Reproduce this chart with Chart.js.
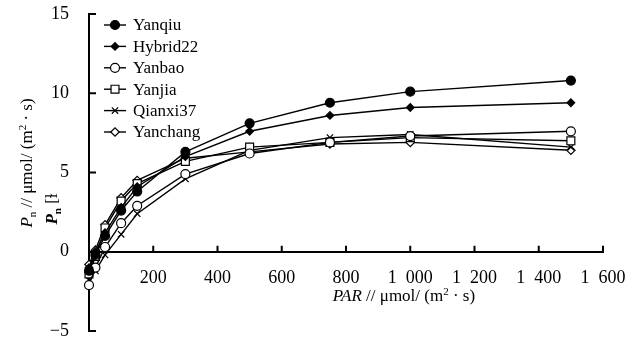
<!DOCTYPE html>
<html>
<head>
<meta charset="utf-8">
<script src="https://cdn.jsdelivr.net/npm/chart.js@4.4.1/dist/chart.umd.min.js"></script>
<style>
  html, body { margin: 0; padding: 0; background: #fff; }
  #wrap { width: 638px; height: 339px; }
</style>
</head>
<body>
<div id="wrap"><canvas id="lightCurve"></canvas></div>
<script>
// PAR levels of the light response curve
const parLevels = [0, 20, 50, 100, 150, 300, 500, 750, 1000, 1500];

const cultivars = ['Yanqiu', 'Hybrid22', 'Yanbao', 'Yanjia', 'Qianxi37', 'Yanchang'];

// net photosynthetic rate Pn per cultivar
const yanqiu   = [-1.2, -0.2, 1.0, 2.6, 3.8, 6.3, 8.1, 9.4, 10.1, 10.8];
const hybrid22 = [-1.0, 0.0, 1.2, 2.8, 4.1, 6.0, 7.6, 8.6, 9.1, 9.4];
const yanbao   = [-2.1, -1.0, 0.3, 1.8, 2.9, 4.9, 6.2, 6.9, 7.3, 7.6];
const yanjia   = [-1.4, -0.3, 1.5, 3.2, 4.3, 5.7, 6.6, 6.9, 7.2, 7.0];
const qianxi37 = [-1.8, -1.2, -0.2, 1.1, 2.4, 4.6, 6.4, 7.2, 7.4, 6.6];
const yanchang = [-0.8, 0.1, 1.7, 3.4, 4.5, 5.9, 6.3, 6.8, 6.9, 6.4];

const seriesValues = [yanqiu, hybrid22, yanbao, yanjia, qianxi37, yanchang];

const xTickValues = [0, 200, 400, 600, 800, 1000, 1200, 1400, 1600];
const xTickLabels = ['', '200', '400', '600', '800', '1\u2002000', '1\u2002200', '1\u2002400', '1\u2002600'];
const yTickValues = [-5, 0, 5, 10, 15];
const yTickLabels = ['\u22125', '0', '5', '10', '15'];

// marker look for each cultivar
const markerStyle  = ['circle', 'rectRot', 'circle', 'rect', 'crossRot', 'rectRot'];
const markerFill   = ['#000', '#000', '#fff', '#fff', '#fff', '#fff'];
const markerRadius = [4.5, 3.8, 4.5, 5.6, 4.5, 4.2];

const serif = '"Liberation Serif", "DejaVu Serif", serif';
Chart.defaults.font.family = serif;
Chart.defaults.color = '#000';

const datasets = cultivars.map((name, i) => ({
  label: name,
  data: parLevels.map((p, k) => ({ x: p, y: seriesValues[i][k] })),
  borderColor: '#000',
  borderWidth: 1.4,
  pointStyle: markerStyle[i],
  pointRadius: markerRadius[i],
  pointBackgroundColor: markerFill[i],
  pointBorderColor: '#000',
  pointBorderWidth: 1.2,
  tension: 0,
  clip: false
}));

// short inward tick marks on both axes
const axisTicks = {
  id: 'axisTicks',
  afterDraw(chart) {
    const { ctx, chartArea, scales: { x, y } } = chart;
    const y0 = y.getPixelForValue(0);
    ctx.save();
    ctx.strokeStyle = '#000';
    ctx.lineWidth = 2;
    ctx.beginPath();
    xTickValues.forEach(v => {
      if (v === 0) return;
      const px = x.getPixelForValue(v);
      ctx.moveTo(px, y0);
      ctx.lineTo(px, y0 - 6);
    });
    yTickValues.forEach(v => {
      const py = y.getPixelForValue(v);
      ctx.moveTo(chartArea.left, py);
      ctx.lineTo(chartArea.left + 7, py);
    });
    ctx.stroke();
    ctx.restore();
  }
};

// draw a run of text pieces with their own fonts and offsets
function drawPieces(ctx, pieces, cx, cy) {
  let total = 0;
  pieces.forEach(p => { ctx.font = p.font; p.w = ctx.measureText(p.t).width; total += p.w; });
  let xPos = cx - total / 2;
  ctx.textBaseline = 'middle';
  ctx.textAlign = 'left';
  pieces.forEach(p => {
    ctx.font = p.font;
    ctx.fillText(p.t, xPos, cy + (p.dy || 0));
    xPos += p.w;
  });
}

const axisTitles = {
  id: 'axisTitles',
  afterDraw(chart) {
    const ctx = chart.ctx;
    ctx.save();
    ctx.fillStyle = '#000';
    const big = '17px ' + serif;
    const small = '11px ' + serif;

    drawPieces(ctx, [
      { t: 'PAR', font: 'italic ' + big },
      { t: ' // \u03bcmol/ (m', font: big },
      { t: '2', font: small, dy: -5 },
      { t: ' \u00b7 s)', font: big }
    ], 404, 297);

    ctx.translate(28, 163);
    ctx.rotate(-Math.PI / 2);
    drawPieces(ctx, [
      { t: 'P', font: 'italic ' + big },
      { t: 'n', font: small, dy: 5 },
      { t: ' // \u03bcmol/ (m', font: big },
      { t: '2', font: small, dy: -5 },
      { t: ' \u00b7 s)', font: big }
    ], 0, 0);
    ctx.restore();

    ctx.save();
    ctx.fillStyle = '#000';
    ctx.translate(53, 209);
    ctx.rotate(-Math.PI / 2);
    drawPieces(ctx, [
      { t: 'P', font: 'bold italic ' + big },
      { t: 'n', font: 'bold ' + small, dy: 5 },
      { t: ' [\u026b', font: big }
    ], 0, 0);
    ctx.restore();
  }
};

// legend inside the plot: line segment with marker, then the name
const markerLegend = {
  id: 'markerLegend',
  afterDraw(chart) {
    const ctx = chart.ctx;
    ctx.save();
    chart.data.datasets.forEach((ds, i) => {
      const yy = 25 + i * 21.4;
      ctx.strokeStyle = '#000';
      ctx.lineWidth = 1.4;
      ctx.beginPath();
      ctx.moveTo(104, yy);
      ctx.lineTo(126, yy);
      ctx.stroke();
      ctx.fillStyle = ds.pointBackgroundColor;
      ctx.lineWidth = 1.2;
      Chart.helpers.drawPoint(ctx, { pointStyle: ds.pointStyle, radius: ds.pointRadius, rotation: 0, borderWidth: 1.2 }, 115, yy);
      ctx.fillStyle = '#000';
      ctx.font = '17px ' + serif;
      ctx.textBaseline = 'middle';
      ctx.textAlign = 'left';
      ctx.fillText(ds.label, 133, yy + 1);
    });
    ctx.restore();
  }
};

new Chart(document.getElementById('lightCurve'), {
  type: 'line',
  data: { datasets },
  options: {
    responsive: true,
    maintainAspectRatio: false,
    animation: false,
    layout: { padding: { left: 0, top: 14, right: 35, bottom: 8 } },
    plugins: { legend: { display: false }, tooltip: { enabled: false } },
    scales: {
      x: {
        type: 'linear',
        position: { y: 0 },
        min: 0,
        max: 1600,
        afterFit(scale) {
          scale.height = 0;
          scale.paddingLeft = 0;
          scale.paddingRight = 0;
        },
        afterBuildTicks(scale) { scale.ticks = xTickValues.map(v => ({ value: v })); },
        ticks: {
          padding: 16,
          font: { size: 18 },
          maxRotation: 0,
          autoSkip: false,
          callback: v => xTickLabels[xTickValues.indexOf(v)]
        },
        grid: { drawOnChartArea: false, drawTicks: false },
        border: { display: true, color: '#000', width: 2 }
      },
      y: {
        min: -5,
        max: 15,
        afterFit(scale) {
          scale.width = 89;
          scale.paddingTop = 0;
          scale.paddingBottom = 0;
        },
        afterBuildTicks(scale) { scale.ticks = yTickValues.map(v => ({ value: v })); },
        ticks: {
          padding: 20,
          font: { size: 18 },
          callback: v => yTickLabels[yTickValues.indexOf(v)]
        },
        grid: { drawOnChartArea: false, drawTicks: false },
        border: { display: true, color: '#000', width: 2 }
      }
    }
  },
  plugins: [axisTicks, axisTitles, markerLegend]
});
</script>
</body>
</html>
